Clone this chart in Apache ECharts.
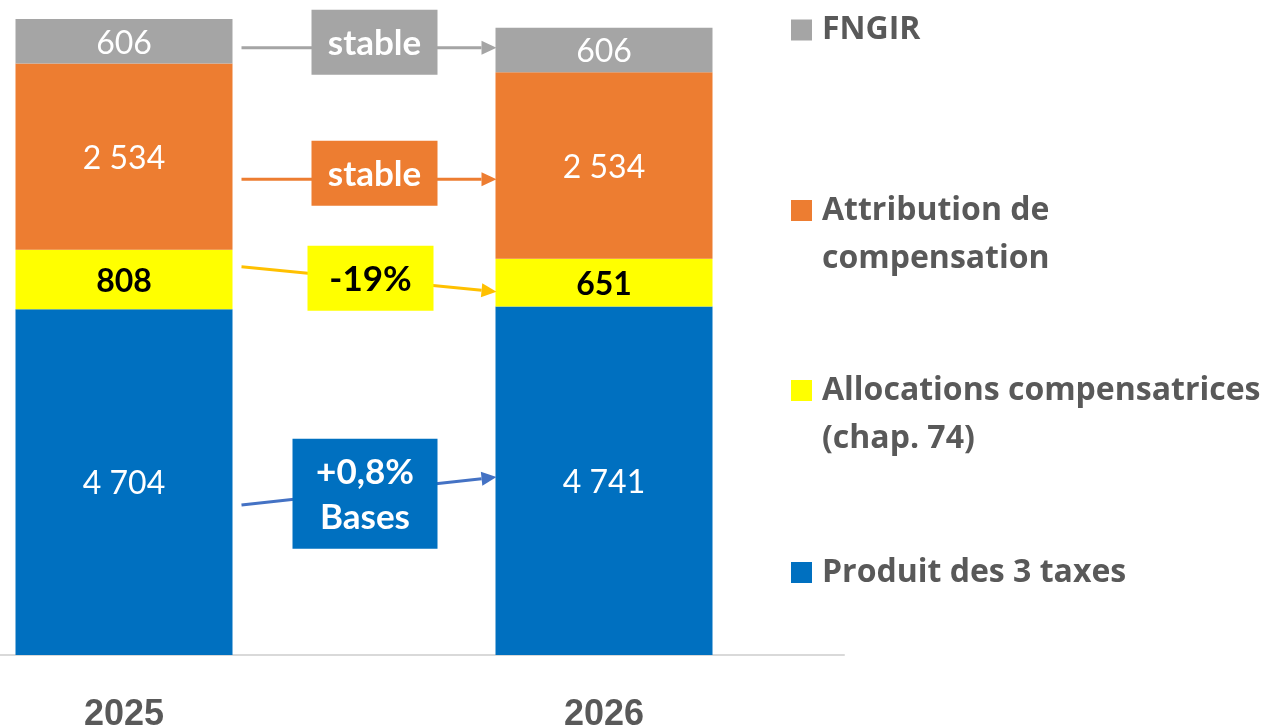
<!DOCTYPE html>
<html>
<head>
<meta charset="utf-8">
<script src="https://cdn.jsdelivr.net/npm/echarts@6/dist/echarts.min.js"></script>
<style>
  html, body { margin: 0; padding: 0; background: #fff; }
  #main { width: 1278px; height: 726px; }
</style>
</head>
<body>
<div id="main"></div>
<script>
// values (k€)
var years = ['2025', '2026'];
var produit = [4704, 4741];
var allocations = [808, 651];
var attribution = [2534, 2534];
var fngir = [606, 606];
var names = ['Produit des 3 taxes', 'Allocations compensatrices\n(chap. 74)', 'Attribution de\ncompensation', 'FNGIR'];
var changes = ['stable', 'stable', '-19%', '+0,8%\nBases'];

// arrows between the two bars, levels in axis units
var arrowLayout = [
  {from: 8261, to: 8261, box: 8335, dx: 10.5, w: 126, h: 65, fill: '#A5A5A5', line: '#A5A5A5', text: '#fff'},
  {from: 6471, to: 6471, box: 6553, dx: 10.5, w: 126, h: 65, fill: '#ED7D31', line: '#ED7D31', text: '#fff'},
  {from: 5282, to: 4942, box: 5124, dx: 6.5, w: 126, h: 65, fill: '#FFFF00', line: '#FFC000', text: '#000'},
  {from: 2041, to: 2421, box: 2193, dx: 1, w: 145, h: 110, fill: '#0070C0', line: '#4472C4', text: '#fff'}
];

var BAR_W = 217;
var FONT = 'Lato, "Open Sans", sans-serif';

function fmt(v) {
  return String(v).replace(/\B(?=(\d{3})+(?!\d))/g, ' ');
}

var mychart = echarts.init(document.getElementById('main'));

function barSeries(name, data, color, labelColor, bold) {
  return {
    name: name,
    type: 'bar',
    stack: 'total',
    barWidth: BAR_W,
    data: data,
    itemStyle: {color: color},
    label: {
      show: true,
      position: 'inside',
      offset: [0, 2],
      color: labelColor,
      fontFamily: FONT,
      fontSize: 32,
      fontWeight: bold ? 'bold' : 'normal',
      formatter: function (p) { return fmt(p.value); }
    },
    emphasis: {disabled: true}
  };
}

// two-line names get an empty first line so the icon sits on the first real line
function legendAt(name, top, twoLines) {
  return {
    data: [name],
    left: 791,
    top: top,
    padding: 0,
    icon: 'rect',
    itemWidth: 21,
    itemHeight: 21,
    selectedMode: false,
    formatter: twoLines ? function (n) { return ' \n' + n; } : '{name}',
    textStyle: {
      color: '#595959',
      fontFamily: '"Open Sans", sans-serif',
      fontWeight: 'bold',
      fontSize: 32,
      lineHeight: 48,
      padding: [0, 0, 0, 5]
    }
  };
}

function renderArrow(params, api) {
  var a = arrowLayout[api.value(4)];
  var p0 = api.coord([0, api.value(1)]);
  var p1 = api.coord([1, api.value(2)]);
  var x0 = p0[0] + BAR_W / 2 + 9, y0 = p0[1];
  var x1 = p1[0] - BAR_W / 2 + 1, y1 = p1[1];
  var ang = Math.atan2(y1 - y0, x1 - x0);
  var headL = 15, headW = 7;
  var bx = x1 - headL * Math.cos(ang), by = y1 - headL * Math.sin(ang);
  var nx = -Math.sin(ang) * headW, ny = Math.cos(ang) * headW;
  var cx = (p0[0] + p1[0]) / 2 + a.dx;
  var cy = api.coord([0, api.value(3)])[1];
  return {
    type: 'group',
    children: [
      {type: 'line', shape: {x1: x0, y1: y0, x2: bx, y2: by},
        style: {stroke: a.line, lineWidth: 3}},
      {type: 'polygon', shape: {points: [[x1, y1], [bx + nx, by + ny], [bx - nx, by - ny]]},
        style: {fill: a.line}},
      {type: 'rect', shape: {x: cx - a.w / 2, y: cy - a.h / 2, width: a.w, height: a.h},
        style: {fill: a.fill}},
      {type: 'text', x: cx, y: cy + 1,
        style: {text: changes[api.value(4)], fill: a.text, align: 'center', verticalAlign: 'middle',
          font: 'bold 35px ' + FONT, lineHeight: 45}}
    ]
  };
}

var option = {
  animation: false,
  backgroundColor: '#fff',
  grid: {left: -116, width: 960, top: 19, bottom: 71, outerBoundsMode: 'none', containLabel: false},
  legend: [
    legendAt(names[3], 6, false),
    legendAt(names[2], 138.5, true),
    legendAt(names[1], 318.5, true),
    legendAt(names[0], 548.5, false)
  ],
  xAxis: {
    type: 'category',
    data: years,
    axisLine: {lineStyle: {color: '#D9D9D9', width: 2}},
    axisTick: {show: false},
    axisLabel: {
      color: '#595959',
      fontFamily: '"Liberation Sans", Arial, sans-serif',
      fontWeight: 'bold',
      fontSize: 36,
      margin: 42
    }
  },
  yAxis: {
    type: 'value',
    min: 0,
    max: 'dataMax',
    show: false,
    splitLine: {show: false}
  },
  series: [
    barSeries(names[0], produit, '#0070C0', '#fff', false),
    barSeries(names[1], allocations, '#FFFF00', '#000', true),
    barSeries(names[2], attribution, '#ED7D31', '#fff', false),
    barSeries(names[3], fngir, '#A5A5A5', '#fff', false),
    {
      type: 'custom',
      renderItem: renderArrow,
      encode: {x: 0, y: [1, 2, 3]},
      data: arrowLayout.map(function (a, i) { return [0, a.from, a.to, a.box, i]; }),
      silent: true,
      z: 5
    }
  ]
};
mychart.setOption(option);
</script>
</body>
</html>
